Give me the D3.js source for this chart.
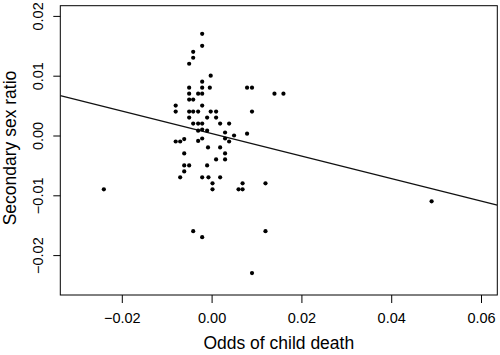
<!DOCTYPE html>
<html><head><meta charset="utf-8">
<script src="https://cdn.jsdelivr.net/npm/d3@7"></script>
<style>body{margin:0;background:#fff}svg{display:block}text{font-family:"Liberation Sans",Arial,sans-serif;fill:#000}</style>
</head><body><svg id="c" width="500" height="355"></svg>
<script>
const oddsChildDeath = [-0.0021,-0.0021,-0.0041,-0.0041,-0.005,-0.0002,-0.0021,-0.005,-0.0021,-0.0004,0.0079,0.009,
  0.014,0.016,-0.005,-0.003,-0.0021,-0.005,-0.0041,-0.008,-0.0021,
  -0.008,-0.005,-0.0041,-0.003,-0.0002,0.001,0.009,
  -0.005,-0.001,0.001,
  -0.0041,-0.003,-0.0021,0.0019,0.0039,
  -0.003,-0.0021,-0.001,0.003,0.0079,0.005,
  -0.008,-0.007,-0.0061,-0.003,-0.0021,0.003,0.0039,
  -0.0061,-0.0008,0.0019,0.003,0.001,0.003,
  -0.0061,-0.005,-0.001,-0.0061,
  -0.007,-0.0021,-0.0007,0.0019,
  0.0002,0.0069,0.012,0.0002,0.006,0.0069,
  -0.0041,-0.0021,0.012,0.009,-0.024,0.049];
const sexRatio = [0.017,0.015,0.014,0.013,0.012,0.01,0.009,0.008,0.008,0.008,0.008,0.008,
  0.007,0.007,0.007,0.007,0.007,0.006,0.006,0.005,0.005,
  0.004,0.004,0.004,0.004,0.004,0.004,0.004,
  0.003,0.003,0.003,
  0.002,0.002,0.002,0.002,0.002,
  0.0008,0.001,0.0008,0.0005,0.0003,0.0,
  -0.001,-0.001,-0.0006,-0.0009,-0.0005,-0.0005,-0.001,
  -0.003,-0.002,-0.002,-0.003,-0.004,-0.004,
  -0.005,-0.005,-0.005,-0.006,
  -0.007,-0.007,-0.007,-0.007,
  -0.008,-0.008,-0.008,-0.009,-0.009,-0.009,
  -0.016,-0.017,-0.016,-0.023,-0.009,-0.011];
const xTicks = [-0.02, 0, 0.02, 0.04, 0.06];
const yTicks = [-0.02, -0.01, 0, 0.01, 0.02];
const fitIntercept = 0.00032, fitSlope = -0.188;

const svg = d3.select("#c");
const L = 60.3, R = 497.3, T = 5.7, B = 295;
const x = d3.scaleLinear().domain([-0.0337, 0.06363]).range([L, R]);
const y = d3.scaleLinear().domain([-0.026672, 0.021706]).range([B, T]);
const fmt = d3.format(".2f");
const lab = v => fmt(v).replace("-", "\u2212");

svg.append("rect").attr("x", L).attr("y", T).attr("width", R - L).attr("height", B - T)
  .attr("fill", "none").attr("stroke", "#000").attr("stroke-width", 1);

const xa = svg.append("g").attr("transform", `translate(0,${B})`)
  .call(d3.axisBottom(x).tickValues(xTicks).tickSize(8).tickPadding(0).tickFormat(lab));
xa.select(".domain").remove();
xa.selectAll("line").attr("stroke", "#000");
xa.selectAll("text").attr("y", 23).attr("dy", "0.35em").attr("font-size", 14.5);

const ya = svg.append("g").attr("transform", `translate(${L},0)`)
  .call(d3.axisLeft(y).tickValues(yTicks).tickSize(7).tickFormat(lab));
ya.select(".domain").remove();
ya.selectAll("line").attr("stroke", "#000");
ya.selectAll("text").attr("x", null).attr("dy", null).attr("y", null)
  .attr("text-anchor", "middle").attr("dominant-baseline", "central")
  .attr("font-size", 14.5)
  .attr("transform", `translate(${38 - L},0) rotate(-90)`);

svg.append("clipPath").attr("id", "pc").append("rect")
  .attr("x", L).attr("y", T).attr("width", R - L).attr("height", B - T);
const xd = x.domain();
svg.append("line").attr("clip-path", "url(#pc)")
  .attr("x1", x(xd[0])).attr("y1", y(fitIntercept + fitSlope * xd[0]))
  .attr("x2", x(xd[1])).attr("y2", y(fitIntercept + fitSlope * xd[1]))
  .attr("stroke", "#111").attr("stroke-width", 1.3);

svg.append("g").selectAll("circle").data(oddsChildDeath.map((v, i) => [v, sexRatio[i]]))
  .join("circle").attr("cx", d => x(d[0])).attr("cy", d => y(d[1])).attr("r", 2.1).attr("fill", "#000");

svg.append("text").attr("x", (L + R) / 2).attr("y", 343).attr("text-anchor", "middle")
  .attr("dominant-baseline", "central").attr("font-size", 17.5).text("Odds of child death");
svg.append("text").attr("transform", `translate(10,148) rotate(-90)`).attr("text-anchor", "middle")
  .attr("dominant-baseline", "central").attr("font-size", 17.5).text("Secondary sex ratio");
</script></body></html>
